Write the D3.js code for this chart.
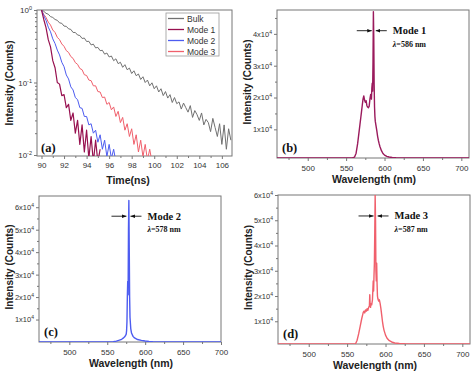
<!DOCTYPE html>
<html>
<head>
<meta charset="UTF-8">
<script src="https://cdn.jsdelivr.net/npm/d3@7"></script>
<style>
  body { margin: 0; background: #fff; }
  svg text { font-family: Arial, "Liberation Sans", sans-serif; }
</style>
</head>
<body>
<script>
// ---- (a) decay curves, shared time channels (ns) ----
var decayTime = [90,90.2,90.4,90.6,90.8,91,91.2,91.4,91.6,91.8,
  92,92.2,92.4,92.6,92.8,93,93.2,93.4,93.6,93.8,
  94,94.2,94.4,94.6,94.8,95,95.2,95.4,95.6,95.8,
  96,96.2,96.4,96.6,96.8,97,97.2,97.4,97.6,97.8,
  98,98.2,98.4,98.6,98.8,99,99.2,99.4,99.6,99.8,
  100,100.2,100.4,100.6,100.8,101,101.2,101.4,101.6,101.8,
  102,102.2,102.4,102.6,102.8,103,103.2,103.4,103.6,103.8,
  104,104.2,104.4,104.6,104.8,105,105.2,105.4,105.6,105.8,
  106,106.2,106.4,106.6,106.8];
var bulkDecay = [1.0,0.96,0.90,0.875,0.81,0.79,0.74,0.72,0.665,0.655,
  0.60,0.595,0.55,0.54,0.49,0.49,0.452,0.445,0.405,0.41,
  0.368,0.37,0.33,0.338,0.30,0.305,0.275,0.278,0.246,0.255,
  0.225,0.232,0.20,0.212,0.182,0.19,0.162,0.176,0.15,0.158,
  0.133,0.145,0.124,0.131,0.11,0.12,0.10,0.108,0.09,0.099,
  0.082,0.09,0.074,0.082,0.066,0.075,0.061,0.068,0.053,0.062,
  0.051,0.054,0.043,0.052,0.045,0.039,0.048,0.033,0.041,0.036,
  0.03,0.038,0.026,0.031,0.028,0.021,0.032,0.024,0.018,0.027,
  0.014,0.026,0.012,0.023,0.016];
var mode1Decay = [1.0,0.74,0.57,0.39,0.31,0.2,0.16,0.1,0.095,0.066,
  0.068,0.045,0.05,0.03,0.038,0.02,0.03,0.014,0.026,0.011,
  0.022,0.009,0.018,0.008,0.016,0.008,0.012];
var mode2Decay = [1.0,0.84,0.72,0.58,0.5,0.4,0.345,0.28,0.24,0.19,
  0.165,0.127,0.112,0.087,0.079,0.062,0.058,0.045,0.044,0.034,
  0.034,0.026,0.027,0.02,0.022,0.015,0.019,0.012,0.016,0.0095,
  0.014,0.009,0.012,0.008];
var mode3Decay = [1.0,0.87,0.79,0.68,0.62,0.53,0.49,0.42,0.39,0.34,
  0.315,0.275,0.26,0.228,0.215,0.188,0.178,0.156,0.15,0.128,
  0.125,0.108,0.106,0.09,0.09,0.075,0.074,0.062,0.063,0.05,
  0.053,0.042,0.046,0.034,0.04,0.028,0.033,0.022,0.027,0.018,
  0.023,0.014,0.019,0.011,0.016,0.0095,0.014,0.0085,0.012,0.008];
var decayNames = ['Bulk', 'Mode 1', 'Mode 2', 'Mode 3'];
var timeTicks = [90, 92, 94, 96, 98, 100, 102, 104, 106];
var decayTicks = [1, 0.1, 0.01];
var decayTickLabels = ['0', '-1', '-2'];

// ---- (b)-(d) emission spectra ----
var wl1 = [460,550,558,561,563,565,567,568,569,570,571,572,573,574,575,576,577,578,579,580,
  581,582,583,583.5,584,584.5,585,585.5,586,586.5,587,587.5,588,589,590,591,592,593,594,596,
  598,600,603,606,610,615,620,625,640,710];
var int1 = [1000,1000,1050,1300,2500,5500,9500,11500,13500,15500,17500,19500,20500,19200,18500,19000,17500,17000,16800,17200,
  19500,21000,19500,23000,24500,22000,31000,47000,39000,24000,17000,14000,12500,11000,9500,7800,6500,5500,4600,3300,
  2400,1900,1500,1300,1150,1080,1040,1020,1000,1000];
var wl2 = [460,550,558,562,566,569,571,573,574,575,575.5,576,576.5,577,577.5,578,578.5,579,579.5,580,
  581,582,584,586,590,595,600,605,610,620,700];
var int2 = [0,0,100,400,800,1200,1700,2300,2800,3500,5000,9000,20000,27000,21000,50000,63000,42000,20000,11000,
  6000,4000,2500,1800,1100,700,450,250,120,50,0];
var wl3 = [460,555,561,563,565,567,569,571,572,573,574,575,576,577,578,579,579.5,580,580.5,581,
  582,583,584,584.5,585,585.5,586,586.5,587,587.5,588,588.5,589,589.5,590,591,592,593,594,595,
  596,597,598,600,602,605,608,612,618,625,640,710];
var int3 = [1000,1000,1100,2500,5000,8000,11000,13500,14000,13300,14500,14000,15000,14300,15500,16000,20500,16500,15500,17000,
  16500,18500,26000,22000,28000,33000,45000,60000,50000,30000,26000,33000,25000,20000,19000,18000,18500,17000,15000,12500,
  10000,8000,6500,4500,3300,2300,1800,1400,1200,1080,1020,1000];
var wlTicks = [500, 550, 600, 650, 700];
var peakWl = [586, 578, 587];
var modeLabels = ['Mode 1', 'Mode 2', 'Made 3'];

var W = 474, H = 374;
var axisCol = '#777', txtCol = '#333';
var svg = d3.select('body').append('svg').attr('width', W).attr('height', H);
var defs = svg.append('defs');
defs.append('marker').attr('id', 'arr').attr('viewBox', '0 0 10 10')
  .attr('refX', 10).attr('refY', 5).attr('markerWidth', 5).attr('markerHeight', 5)
  .attr('orient', 'auto')
  .append('path').attr('d', 'M0,1L10,5L0,9z').attr('fill', '#111');

function frame(p, id) {
  defs.append('clipPath').attr('id', id).append('rect')
    .attr('x', p.left).attr('y', p.top).attr('width', p.right - p.left).attr('height', p.bottom - p.top);
  svg.append('rect').attr('x', p.left).attr('y', p.top)
    .attr('width', p.right - p.left).attr('height', p.bottom - p.top)
    .attr('fill', 'none').attr('stroke', axisCol).attr('stroke-width', 1);
}

function styleAxis(g) {
  g.select('.domain').remove();
  g.selectAll('.tick line').attr('stroke', axisCol);
  g.selectAll('.tick text').attr('fill', txtCol).style('font-size', '8px');
}

function yTitle(xp, yp) {
  svg.append('text').attr('transform', 'translate(' + xp + ',' + yp + ') rotate(-90)')
    .attr('text-anchor', 'middle').attr('dy', '0.35em')
    .style('font-size', '10px').style('font-weight', 'bold').attr('fill', '#222')
    .text('Intensity (Counts)');
}

function xTitle(xp, yp, s) {
  svg.append('text').attr('x', xp).attr('y', yp).attr('text-anchor', 'middle')
    .style('font-size', '10.5px').style('font-weight', 'bold').attr('fill', '#222').text(s);
}

function panelTag(xp, yp, s) {
  svg.append('text').attr('x', xp).attr('y', yp)
    .style('font-family', '"Liberation Serif", "Times New Roman", serif')
    .style('font-size', '12.5px').style('font-weight', 'bold').attr('fill', '#111').text(s);
}

// ---------- panel (a) ----------
var pa = {left: 37, top: 10, right: 232, bottom: 156};
frame(pa, 'clipA');
var xa = d3.scaleLinear().domain([89.6, 106.9]).range([pa.left, pa.right]);
var ya = d3.scaleLog().domain([0.01, 1]).range([pa.bottom - 1, pa.top]);

var gxa = svg.append('g').attr('transform', 'translate(0,' + pa.bottom + ')')
  .call(d3.axisBottom(xa).tickValues(timeTicks).tickSize(3).tickPadding(3));
styleAxis(gxa);
svg.append('g').attr('transform', 'translate(0,' + pa.bottom + ')')
  .call(d3.axisBottom(xa).tickValues(timeTicks.map(function(d) { return d + 1; }).filter(function(d) { return d < 106.9; }))
    .tickSize(2).tickFormat(''))
  .call(styleAxis);

var minorLog = [];
[0.01, 0.1].forEach(function(dec) { for (var k = 2; k <= 9; k++) minorLog.push(dec * k); });
svg.append('g').attr('transform', 'translate(' + pa.left + ',0)')
  .call(d3.axisLeft(ya).tickValues(minorLog).tickSize(2).tickFormat(''))
  .call(styleAxis);
var gya = svg.append('g').attr('transform', 'translate(' + pa.left + ',0)')
  .call(d3.axisLeft(ya).tickValues(decayTicks).tickSize(3).tickPadding(2));
styleAxis(gya);
gya.selectAll('.tick text').each(function(d, i) {
  var t = d3.select(this).text('');
  t.append('tspan').text('10');
  t.append('tspan').attr('dy', '-3').style('font-size', '5.5px').text(decayTickLabels[i]);
});

var decaySeries = [
  {name: 'Bulk', v: bulkDecay, col: '#707070', w: 1},
  {name: 'Mode 3', v: mode3Decay, col: '#f0606c', w: 1},
  {name: 'Mode 2', v: mode2Decay, col: '#4d5cf0', w: 1},
  {name: 'Mode 1', v: mode1Decay, col: '#97104f', w: 1.2}
];
var decayLine = d3.line().x(function(d) { return xa(d[0]); }).y(function(d) { return ya(Math.max(d[1], 0.005)); });
var ga = svg.append('g').attr('clip-path', 'url(#clipA)');
decaySeries.forEach(function(s) {
  var pts = s.v.map(function(v, i) { return [decayTime[i], v]; });
  ga.append('path').datum(pts).attr('d', decayLine)
    .attr('fill', 'none').attr('stroke', s.col).attr('stroke-width', s.w).attr('stroke-linejoin', 'round');
});

// legend
var colByName = {};
decaySeries.forEach(function(s) { colByName[s.name] = s; });
var lg = svg.append('g').attr('transform', 'translate(166,13)');
lg.append('rect').attr('width', 53).attr('height', 43).attr('fill', '#fff')
  .attr('stroke', '#999').attr('stroke-width', 0.8);
decayNames.forEach(function(n, i) {
  var yy = 5.5 + i * 11;
  lg.append('line').attr('x1', 2).attr('x2', 18).attr('y1', yy).attr('y2', yy)
    .attr('stroke', colByName[n].col).attr('stroke-width', 1.3);
  lg.append('text').attr('x', 21).attr('y', yy + 3).style('font-size', '8.5px')
    .attr('fill', txtCol).text(n);
});

yTitle(9, 83);
xTitle(128, 184, 'Time(ns)');
panelTag(41, 152, '(a)');

// ---------- spectra ----------
function spectrum(p, i) {
  frame(p, p.id);
  var x = d3.scaleLinear().domain(p.xDomain).range([p.left, p.right]);
  var y = d3.scaleLinear().domain(p.yDomain).range([p.bottom, p.top]);

  var gx = svg.append('g').attr('transform', 'translate(0,' + p.bottom + ')')
    .call(d3.axisBottom(x).tickValues(wlTicks).tickSize(3).tickPadding(4));
  styleAxis(gx);
  svg.append('g').attr('transform', 'translate(0,' + p.bottom + ')')
    .call(d3.axisBottom(x).tickValues(wlTicks.map(function(d) { return d - 25; })).tickSize(2).tickFormat(''))
    .call(styleAxis);

  var yT = d3.range(1, p.yMax + 1).map(function(k) { return k * 1e4; });
  var yMinor = yT.map(function(d) { return d + 5000; }).filter(function(d) { return d < p.yDomain[1]; });
  svg.append('g').attr('transform', 'translate(' + p.left + ',0)')
    .call(d3.axisLeft(y).tickValues(yMinor).tickSize(2).tickFormat(''))
    .call(styleAxis);
  var gy = svg.append('g').attr('transform', 'translate(' + p.left + ',0)')
    .call(d3.axisLeft(y).tickValues(yT).tickSize(3).tickPadding(2));
  styleAxis(gy);
  gy.selectAll('.tick text').style('font-size', '7.5px').each(function(d) {
    var t = d3.select(this).text('');
    t.append('tspan').text((d / 1e4) + 'x10');
    t.append('tspan').attr('dy', '-3').style('font-size', '5px').text('4');
  });

  var line = d3.line().x(function(d) { return x(d[0]); }).y(function(d) { return y(d[1]); });
  var pts = p.wl.map(function(w, k) { return [w, p.val[k]]; });
  svg.append('g').attr('clip-path', 'url(#' + p.id + ')')
    .append('path').datum(pts).attr('d', line)
    .attr('fill', 'none').attr('stroke', p.col).attr('stroke-width', 1.4).attr('stroke-linejoin', 'round');

  // annotation
  var xp = x(peakWl[i]), ay = y(p.arrowAt);
  svg.append('line').attr('x1', xp - 17).attr('x2', xp - 2).attr('y1', ay).attr('y2', ay)
    .attr('stroke', '#111').attr('stroke-width', 0.9).attr('marker-end', 'url(#arr)');
  svg.append('line').attr('x1', xp + 13).attr('x2', xp + 2).attr('y1', ay).attr('y2', ay)
    .attr('stroke', '#111').attr('stroke-width', 0.9).attr('marker-end', 'url(#arr)');
  var serif = '"Liberation Serif", "Times New Roman", serif';
  svg.append('text').attr('x', xp + 19).attr('y', ay + 3.5)
    .style('font-family', serif).style('font-size', '10.5px').style('font-weight', 'bold')
    .attr('fill', '#111').text(modeLabels[i]);
  var lt = svg.append('text').attr('x', xp + 19).attr('y', ay + 16)
    .style('font-family', serif).style('font-size', '8px').style('font-weight', 'bold').attr('fill', '#111');
  lt.append('tspan').style('font-style', 'italic').text('\u03bb');
  lt.append('tspan').text('=' + peakWl[i] + ' nm');

  yTitle(p.left - 30, (p.top + p.bottom) / 2 - 2);
  xTitle((p.left + p.right) / 2 + 1, p.bottom + 25, 'Wavelength (nm)');
  panelTag(p.left + 5, p.bottom - 6, p.tag);
}

spectrum({id: 'clipB', tag: '(b)', left: 277, top: 10, right: 469, bottom: 158,
  xDomain: [460, 710], yDomain: [1000, 47500], yMax: 4,
  wl: wl1, val: int1, col: '#9a1a5c', arrowAt: 41000}, 0);
spectrum({id: 'clipC', tag: '(c)', left: 39, top: 196, right: 221, bottom: 342,
  xDomain: [460, 700], yDomain: [0, 65000], yMax: 6,
  wl: wl2, val: int2, col: '#4d5cf0', arrowAt: 56000}, 1);
spectrum({id: 'clipD', tag: '(d)', left: 278, top: 195, right: 470, bottom: 344,
  xDomain: [460, 710], yDomain: [1000, 60000], yMax: 6,
  wl: wl3, val: int3, col: '#f0606c', arrowAt: 51700}, 2);
</script>
</body>
</html>
